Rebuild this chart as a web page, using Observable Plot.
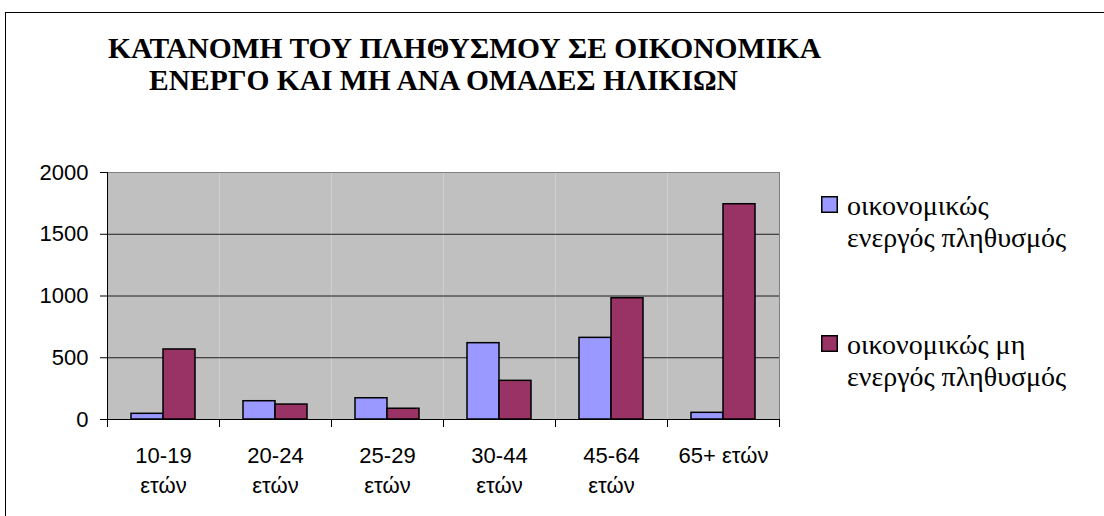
<!DOCTYPE html>
<html>
<head>
<meta charset="utf-8">
<script src="https://cdn.jsdelivr.net/npm/d3@7"></script>
<script src="https://cdn.jsdelivr.net/npm/@observablehq/plot@0.6"></script>
<style>
  html, body { margin: 0; padding: 0; background: #fff; }
  #page { position: relative; width: 1104px; height: 516px; overflow: hidden; background: #fff; }
  #border { position: absolute; left: 5px; top: 12px; width: 1300px; height: 700px; border: 1px solid #000; box-sizing: border-box; }
  #chart { position: absolute; left: 0; top: 0; }
  #overlay { position: absolute; left: 0; top: 0; }
</style>
</head>
<body>
<div id="page">
  <div id="border"></div>
  <div id="chart"></div>
  <svg id="overlay" width="1104" height="516"></svg>
</div>
<script>
const titleLines = ["ΚΑΤΑΝΟΜΗ ΤΟΥ ΠΛΗΘΥΣΜΟΥ ΣΕ ΟΙΚΟΝΟΜΙΚΑ", "ΕΝΕΡΓΟ ΚΑΙ ΜΗ ΑΝΑ ΟΜΑΔΕΣ ΗΛΙΚΙΩΝ"];
const categories = ["10-19 ετών", "20-24 ετών", "25-29 ετών", "30-44 ετών", "45-64 ετών", "65+ ετών"];
const tickLabels = ["10-19\nετών", "20-24\nετών", "25-29\nετών", "30-44\nετών", "45-64\nετών", "65+ ετών"];
const series = ["οικονομικώς ενεργός πληθυσμός", "οικονομικώς μη ενεργός πληθυσμός"];
const legendLines = [["οικονομικώς", "ενεργός πληθυσμός"], ["οικονομικώς μη", "ενεργός πληθυσμός"]];
const activeValues = [46, 148, 172, 618, 661, 54];
const inactiveValues = [567, 121, 87, 313, 982, 1743];
const yTicks = [0, 500, 1000, 1500, 2000];
const colors = ["#9999FF", "#993366"];

const SERIF = "Liberation Serif";
const SANS = "'Liberation Sans', Arial, Helvetica, sans-serif";

const data = [];
categories.forEach((c, i) => {
  data.push({category: c, series: series[0], value: activeValues[i]});
  data.push({category: c, series: series[1], value: inactiveValues[i]});
});

const W = 800, H = 516, mT = 172, mB = 97, mL = 107, mR = 21;
const plotH = H - mT - mB;

const chart = Plot.plot({
  width: W, height: H,
  marginTop: mT, marginBottom: mB, marginLeft: mL, marginRight: mR,
  style: {fontFamily: SANS, fontSize: "22px", color: "#000", background: "transparent", overflow: "visible"},
  fx: {domain: categories, padding: 0, label: null},
  x: {domain: series, paddingInner: 0, paddingOuter: 0.733, axis: null},
  y: {domain: [0, 2000], label: null},
  color: {domain: series, range: colors},
  marks: [
    Plot.frame({fill: "#C0C0C0", stroke: "none"}),
    Plot.gridY({ticks: yTicks.filter(d => d > 0 && d < 2000), stroke: "#000", strokeOpacity: 0.85}),
    Plot.frame({anchor: "top", stroke: "#808080"}),
    Plot.frame({anchor: "right", facetAnchor: "right", stroke: "#808080"}),
    Plot.barY(data, {fx: "category", x: "series", y: "value", fill: "series", stroke: "#000", strokeWidth: 1.5}),
    Plot.ruleY([0], {stroke: "#000"}),
    Plot.frame({anchor: "left", facetAnchor: "left", stroke: "#000"}),
    Plot.frame({anchor: "left", insetTop: plotH, insetBottom: -7, stroke: "#000"}),
    Plot.frame({anchor: "right", facetAnchor: "right", insetTop: plotH, insetBottom: -7, stroke: "#000"}),
    Plot.axisY({ticks: yTicks, tickSize: 7, tickPadding: 12, fontSize: 22, label: null, stroke: "#000", tickFormat: d => String(d)}),
    Plot.axisFx({anchor: "bottom", tickSize: 0, tickPadding: 23, fontSize: 22, lineHeight: 1.34, label: null,
      tickFormat: d => tickLabels[categories.indexOf(d)]})
  ]
});
document.getElementById("chart").appendChild(chart);

// Title and legend drawn as SVG text in a serif face
const ov = d3.select("#overlay");
const titleX = [108, 149], titleBase = [58, 90];
titleLines.forEach((t, i) => {
  ov.append("text")
    .attr("x", titleX[i]).attr("y", titleBase[i])
    .attr("font-family", SERIF).attr("font-weight", "bold").attr("font-size", 29.5)
    .attr("fill", "#000").text(t);
});
const legendTops = [196, 335];
legendLines.forEach((lines, i) => {
  ov.append("rect")
    .attr("x", 821.75).attr("y", legendTops[i] + 0.75).attr("width", 15.5).attr("height", 15.5)
    .attr("fill", colors[i]).attr("stroke", "#000").attr("stroke-width", 1.5);
  lines.forEach((l, j) => {
    ov.append("text")
      .attr("x", 847).attr("y", legendTops[i] + 18.5 + j * 32.5)
      .attr("font-family", SERIF).attr("font-size", 28)
      .attr("fill", "#000").text(l);
  });
});
</script>
</body>
</html>
